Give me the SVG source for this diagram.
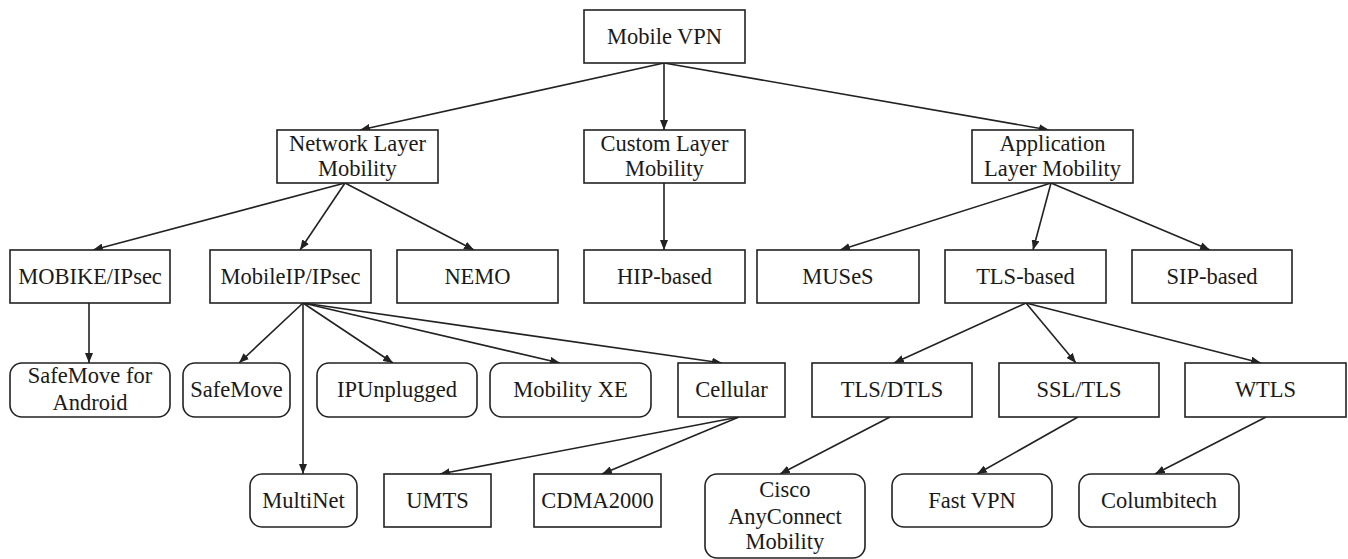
<svg xmlns="http://www.w3.org/2000/svg" width="1348" height="559" viewBox="0 0 1348 559">
<style>
.b{fill:#fff;stroke:#222;stroke-width:1.6}
.t{font-family:"Liberation Serif","Times New Roman",serif;font-size:22.5px;fill:#1a1a1a;text-anchor:middle}
.c line{stroke:#222;stroke-width:1.6;marker-end:url(#a)}
</style>
<defs>
<marker id="a" markerUnits="userSpaceOnUse" markerWidth="10" markerHeight="8" refX="10" refY="4" orient="auto">
<path d="M0,0 L10,4 L0,8 z" fill="#222"/>
</marker>
</defs>
<rect width="1348" height="559" fill="#fff"/>
<g class="c" id="connectors">
<line x1="664" y1="63" x2="360" y2="130"/>
<line x1="664" y1="63" x2="664" y2="130"/>
<line x1="664" y1="63" x2="1049" y2="130"/>
<line x1="345" y1="183" x2="93" y2="250"/>
<line x1="345" y1="183" x2="300" y2="250"/>
<line x1="345" y1="183" x2="474" y2="250"/>
<line x1="664" y1="183" x2="664" y2="250"/>
<line x1="1051" y1="183" x2="840" y2="250"/>
<line x1="1051" y1="183" x2="1033" y2="250"/>
<line x1="1051" y1="183" x2="1210" y2="250"/>
<line x1="89" y1="303" x2="89" y2="363"/>
<line x1="303" y1="303" x2="239" y2="363"/>
<line x1="303" y1="303" x2="303" y2="474"/>
<line x1="303" y1="303" x2="393" y2="363"/>
<line x1="303" y1="303" x2="560" y2="363"/>
<line x1="303" y1="303" x2="722" y2="363"/>
<line x1="739" y1="417" x2="440" y2="474"/>
<line x1="739" y1="417" x2="602" y2="474"/>
<line x1="1026" y1="303" x2="894" y2="363"/>
<line x1="1026" y1="303" x2="1076" y2="363"/>
<line x1="1026" y1="303" x2="1261" y2="363"/>
<line x1="890" y1="417" x2="780" y2="474"/>
<line x1="1078" y1="417" x2="977" y2="474"/>
<line x1="1266" y1="417" x2="1155" y2="474"/>
</g>
<g id="mobile-vpn"><rect class="b" x="584" y="10" width="161" height="53"/><text class="t" x="664.5" y="44">Mobile VPN</text></g>
<g id="network-layer"><rect class="b" x="277" y="130" width="161" height="53"/><text class="t" x="357.5" y="151">Network Layer</text><text class="t" x="357.5" y="176">Mobility</text></g>
<g id="custom-layer"><rect class="b" x="584" y="130" width="161" height="53"/><text class="t" x="664.5" y="151">Custom Layer</text><text class="t" x="664.5" y="176">Mobility</text></g>
<g id="application-layer"><rect class="b" x="972" y="130" width="161" height="53"/><text class="t" x="1052.5" y="151">Application</text><text class="t" x="1052.5" y="176">Layer Mobility</text></g>
<g id="mobike"><rect class="b" x="10" y="250" width="160" height="53"/><text class="t" x="90" y="284">MOBIKE/IPsec</text></g>
<g id="mobileip"><rect class="b" x="210" y="250" width="161" height="53"/><text class="t" x="290.5" y="284">MobileIP/IPsec</text></g>
<g id="nemo"><rect class="b" x="397" y="250" width="161" height="53"/><text class="t" x="477.5" y="284">NEMO</text></g>
<g id="hip"><rect class="b" x="584" y="250" width="161" height="53"/><text class="t" x="664.5" y="284">HIP-based</text></g>
<g id="muses"><rect class="b" x="757" y="250" width="162" height="53"/><text class="t" x="838" y="284">MUSeS</text></g>
<g id="tls-based"><rect class="b" x="945" y="250" width="161" height="53"/><text class="t" x="1025.5" y="284">TLS-based</text></g>
<g id="sip-based"><rect class="b" x="1132" y="250" width="160" height="53"/><text class="t" x="1212" y="284">SIP-based</text></g>
<g id="safemove-android"><rect class="b" x="10" y="363" width="160" height="54" rx="12"/><text class="t" x="90" y="383">SafeMove for</text><text class="t" x="90" y="410">Android</text></g>
<g id="safemove"><rect class="b" x="183" y="363" width="107" height="54" rx="12"/><text class="t" x="236.5" y="397">SafeMove</text></g>
<g id="ipunplugged"><rect class="b" x="317" y="363" width="160" height="54" rx="12"/><text class="t" x="397" y="397">IPUnplugged</text></g>
<g id="mobility-xe"><rect class="b" x="490" y="363" width="161" height="54" rx="12"/><text class="t" x="570.5" y="397">Mobility XE</text></g>
<g id="cellular"><rect class="b" x="678" y="363" width="107" height="54"/><text class="t" x="731.5" y="397">Cellular</text></g>
<g id="tls-dtls"><rect class="b" x="812" y="363" width="160" height="54"/><text class="t" x="892" y="397">TLS/DTLS</text></g>
<g id="ssl-tls"><rect class="b" x="999" y="363" width="160" height="54"/><text class="t" x="1079" y="397">SSL/TLS</text></g>
<g id="wtls"><rect class="b" x="1185" y="363" width="161" height="54"/><text class="t" x="1265.5" y="397">WTLS</text></g>
<g id="multinet"><rect class="b" x="250" y="474" width="107" height="53" rx="12"/><text class="t" x="303.5" y="508">MultiNet</text></g>
<g id="umts"><rect class="b" x="384" y="474" width="107" height="53"/><text class="t" x="437.5" y="508">UMTS</text></g>
<g id="cdma2000"><rect class="b" x="534" y="474" width="127" height="53"/><text class="t" x="597.5" y="508">CDMA2000</text></g>
<g id="cisco"><rect class="b" x="705" y="474" width="160" height="84" rx="12"/><text class="t" x="785" y="497">Cisco</text><text class="t" x="785" y="524">AnyConnect</text><text class="t" x="785" y="549">Mobility</text></g>
<g id="fast-vpn"><rect class="b" x="892" y="474" width="160" height="53" rx="12"/><text class="t" x="972" y="508">Fast VPN</text></g>
<g id="columbitech"><rect class="b" x="1079" y="474" width="160" height="53" rx="12"/><text class="t" x="1159" y="508">Columbitech</text></g>
</svg>
